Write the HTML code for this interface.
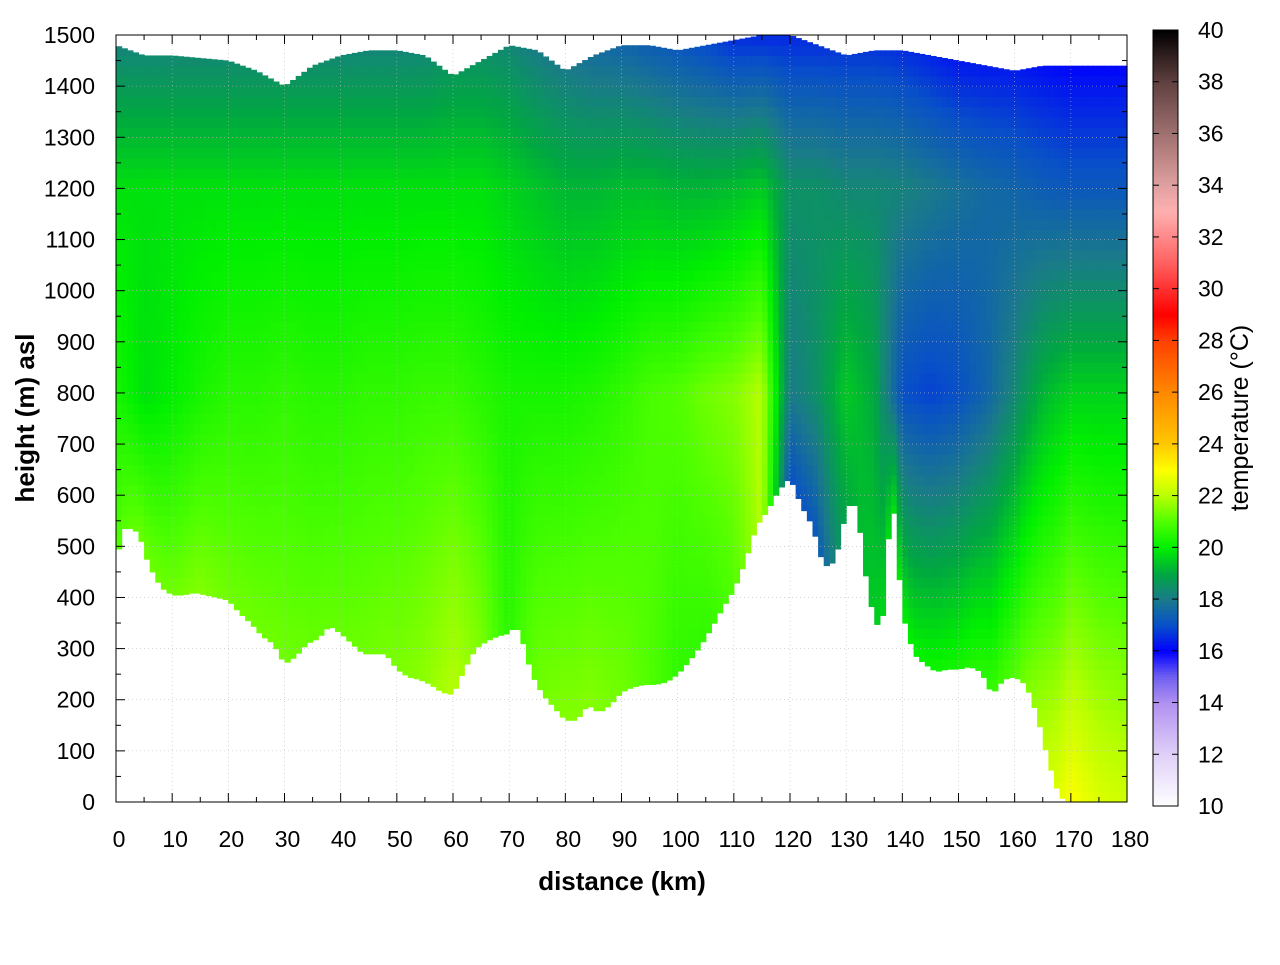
<!DOCTYPE html>
<html><head><meta charset="utf-8"><style>
body{margin:0;background:#fff;}
svg text{font-family:"Liberation Sans",sans-serif;}
</style></head><body>
<svg id="chart" width="1280" height="960" xmlns="http://www.w3.org/2000/svg">
<g id="cells"></g>
<g id="grid"></g>
<rect x="116" y="35" width="1011" height="767" fill="none" stroke="#000" stroke-width="1"/>
<g id="axes"></g>
<g id="cbar"></g>
<text x="622" y="890" text-anchor="middle" font-size="26" font-weight="bold">distance (km)</text>
<text transform="translate(34,418) rotate(-90)" text-anchor="middle" font-size="26" font-weight="bold">height (m) asl</text>
<text transform="translate(1248,418) rotate(-90)" text-anchor="middle" font-size="25">temperature (°C)</text>
</svg>
<script>
// ground profile (km, m)
const groundX=[0,1,2,3,4,5,6,7,8,10,12,14,16,18,20,22,24,26,28,30,32,34,36,38,40,42,44,46,48,50,52,54,56,58,60,62,64,66,68,70,71,72,74,76,78,80,82,84,86,88,90,92,94,96,98,100,102,104,106,108,110,112,114,116,118,120,122,124,126,128,130,131,132,134,136,137,138,139,140,142,144,146,148,150,152,154,156,158,160,162,164,166,168,170,175,180];
const groundH=[460,530,540,530,530,490,460,440,420,405,405,410,405,400,395,370,350,325,310,270,285,310,320,345,330,310,290,290,290,260,245,240,230,215,210,260,300,315,325,330,345,330,250,210,185,160,160,190,175,190,215,225,230,230,235,250,275,305,340,380,415,470,540,570,610,635,580,540,460,470,570,590,570,400,330,400,630,500,370,290,270,255,260,260,265,255,210,240,245,230,170,80,10,0,0,0];
// top of data (every 5 km)
const gridX=[0,5,10,15,20,25,30,35,40,45,50,55,60,65,70,75,80,85,90,95,100,105,110,115,120,125,130,135,140,145,150,155,160,165,170,175,180];
const topH=[1480,1460,1460,1455,1450,1430,1400,1440,1460,1470,1470,1460,1420,1450,1480,1470,1430,1460,1480,1480,1470,1480,1490,1500,1500,1480,1460,1470,1470,1460,1450,1440,1430,1440,1440,1440,1440];
// temperatures (°C): at ground, 800 m, 1200 m, 1500 m
const tGround=[21,21.3,21.3,21.5,21.3,21.3,21.3,21.2,21.2,21.3,21.4,21.6,22,21.4,20.5,21.3,21.5,21.5,21.3,21,20.6,20.6,21,22,17,17.2,19,19.5,20,20.2,20.3,20.6,21,22,23,22.5,22.3];
const tMid=[20.3,19.8,20,20.3,20.5,20.5,20.6,20.5,20.5,20.6,20.6,20.7,20.7,20.5,20.3,20.3,20.3,20.4,20.6,20.9,21,21.3,21.5,22,18,18.5,19.5,19,17,16.8,17,17.5,18.3,19.2,19.6,19.6,19.6];
const tHigh=[19.8,19.8,19.8,19.8,19.8,19.8,19.8,19.8,19.8,19.8,19.8,19.8,19.8,19.8,19.6,19.4,19.2,19.2,19.3,19.3,19.2,19.2,19.3,19.5,18.5,18.5,18.3,18.3,18.2,18,17.8,17.6,17.5,17.3,17.2,17.2,17.2];
const tTop=[18.1,18.1,18.1,18.1,18.1,18.1,18.1,18.1,18.1,18.1,18.1,18.1,18.3,18.3,18.2,17.9,17.7,17.5,17.4,17.2,17,16.8,16.5,16.5,16.5,16.5,16.5,16.5,16.4,16.2,16,16,16,15.9,15.8,15.8,15.8];
const xTicks=[0,10,20,30,40,50,60,70,80,90,100,110,120,130,140,150,160,170,180];
const yTicks=[0,100,200,300,400,500,600,700,800,900,1000,1100,1200,1300,1400,1500];
const cTicks=[10,12,14,16,18,20,22,24,26,28,30,32,34,36,38,40];
const cStops=[[10,'#ffffff'],[12,'#e0d0f8'],[14,'#b090f0'],[15,'#7060f0'],[16,'#0000ff'],[17,'#0850c8'],[18,'#1a7a8a'],[19,'#00a840'],[20,'#00f000'],[21,'#50ff00'],[22,'#b8ff00'],[23,'#ffff00'],[24,'#ffc800'],[26,'#ff8800'],[28,'#ff4000'],[29,'#ff0000'],[31,'#ff6060'],[33,'#ffb0b0'],[34,'#e0a0a0'],[36,'#a07070'],[38,'#604040'],[40,'#000000']];

const NS='http://www.w3.org/2000/svg';
const X0=116,X1=1127,Y0=802,Y1=35;
const sx=v=>X0+(v/180)*(X1-X0);
const sy=v=>Y0-(v/1500)*(Y0-Y1);
function interp(xs,ys,x){if(x<=xs[0])return ys[0];for(let i=1;i<xs.length;i++){if(x<=xs[i]){const t=(x-xs[i-1])/(xs[i]-xs[i-1]);return ys[i-1]+t*(ys[i]-ys[i-1]);}}return ys[ys.length-1];}
function hex(c){return [parseInt(c.substr(1,2),16),parseInt(c.substr(3,2),16),parseInt(c.substr(5,2),16)];}
function cmap(T){T=Math.max(10,Math.min(40,T));for(let i=1;i<cStops.length;i++){if(T<=cStops[i][0]){const a=cStops[i-1],b=cStops[i];const t=(T-a[0])/(b[0]-a[0]);const A=hex(a[1]),B=hex(b[1]);return 'rgb('+A.map((v,k)=>Math.round(v+t*(B[k]-v))).join(',')+')';}}return '#000';}
function mk(tag,attrs,parent){const e=document.createElementNS(NS,tag);for(const k in attrs)e.setAttribute(k,attrs[k]);parent.appendChild(e);return e;}

const cells=document.getElementById('cells');
const DX=1,DH=20;
for(let x=0;x<180;x+=DX){
  const xc=x+DX/2;
  const g=interp(groundX,groundH,xc),top=interp(gridX,topH,xc);
  const tg=interp(gridX,tGround,xc),tm=interp(gridX,tMid,xc),th=interp(gridX,tHigh,xc),tt=interp(gridX,tTop,xc);
  for(let h=0;h<1500;h+=DH){
    const lo=Math.max(h,g),hi=Math.min(h+DH,top);
    if(hi<=lo)continue;
    const hc=(lo+hi)/2;
    let T;
    if(hc<=800){const m=Math.max(800,g+50);T=tg+(tm-tg)*Math.min(1,(hc-g)/(m-g));}
    else if(hc<=1200) T=tm+(th-tm)*(hc-800)/400;
    else T=th+(tt-th)*(hc-1200)/300;
    const r=mk('rect',{x:sx(x).toFixed(2),y:sy(hi).toFixed(2),width:(sx(x+DX)-sx(x)+0.6).toFixed(2),height:(sy(lo)-sy(hi)+0.6).toFixed(2),fill:cmap(T)},cells);
    
    
  }
}
const grid=document.getElementById('grid'),axes=document.getElementById('axes');
xTicks.forEach(v=>{
  if(v>0&&v<180){const l=mk('line',{x1:sx(v),x2:sx(v),y1:Y0,y2:Y1,stroke:'#bbb','stroke-width':0.6,'stroke-dasharray':'1,3'},grid);}
  mk('line',{x1:sx(v),x2:sx(v),y1:Y0,y2:Y0-9,stroke:'#000'},axes);
  mk('line',{x1:sx(v),x2:sx(v),y1:Y1,y2:Y1+9,stroke:'#000'},axes);
  if(v<180){mk('line',{x1:sx(v+5),x2:sx(v+5),y1:Y0,y2:Y0-5,stroke:'#000'},axes);mk('line',{x1:sx(v+5),x2:sx(v+5),y1:Y1,y2:Y1+5,stroke:'#000'},axes);}
  const t=mk('text',{x:sx(v)+3,y:847,'text-anchor':'middle','font-size':23},axes);t.textContent=v;
  
});
yTicks.forEach(v=>{
  if(v>0&&v<1500){const l=mk('line',{x1:X0,x2:X1,y1:sy(v),y2:sy(v),stroke:'#bbb','stroke-width':0.6,'stroke-dasharray':'1,3'},grid);}
  mk('line',{x1:X0,x2:X0+9,y1:sy(v),y2:sy(v),stroke:'#000'},axes);
  mk('line',{x1:X1,x2:X1-9,y1:sy(v),y2:sy(v),stroke:'#000'},axes);
  if(v<1500){mk('line',{x1:X0,x2:X0+5,y1:sy(v+50),y2:sy(v+50),stroke:'#000'},axes);mk('line',{x1:X1,x2:X1-5,y1:sy(v+50),y2:sy(v+50),stroke:'#000'},axes);}
  const t=mk('text',{x:95,y:sy(v)+8,'text-anchor':'end','font-size':23},axes);t.textContent=v;
  
});
// colorbar
const cb=document.getElementById('cbar');
const CX=1153,CW=25,CT=30,CB=806;
const cy=v=>CB-(v-10)/30*(CB-CT);
for(let T=10;T<40;T+=0.1){mk('rect',{x:CX,y:cy(T+0.1).toFixed(2),width:CW,height:(cy(T)-cy(T+0.1)+0.5).toFixed(2),fill:cmap(T+0.05)},cb);}
mk('rect',{x:CX,y:CT,width:CW,height:CB-CT,fill:'none',stroke:'#000'},cb);
cTicks.forEach(v=>{
  mk('line',{x1:CX,x2:CX+6,y1:cy(v),y2:cy(v),stroke:'#000'},cb);
  mk('line',{x1:CX+CW,x2:CX+CW-6,y1:cy(v),y2:cy(v),stroke:'#000'},cb);
  const t=mk('text',{x:1198,y:cy(v)+8,'font-size':23},cb);t.textContent=v;
  
});
</script>
</body></html>
